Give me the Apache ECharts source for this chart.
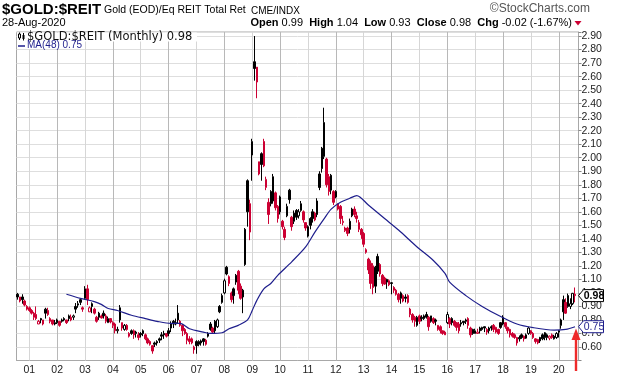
<!DOCTYPE html>
<html>
<head>
<meta charset="utf-8">
<script src="https://cdn.jsdelivr.net/npm/echarts@6/dist/echarts.min.js"></script>
<style>
html,body{margin:0;padding:0;background:#fff;}
#chart{width:620px;height:376px;}
</style>
</head>
<body>
<div id="chart"></div>
<script>
// monthly categories Aug 2000 .. Aug 2020 (+1 empty slot at the end)
var months = [];
for (var m = 0; m < 242; m++) {
    var yy = 2000 + Math.floor((7 + m) / 12);
    var mm = (7 + m) % 12 + 1;
    months.push(yy + '-' + (mm < 10 ? '0' + mm : mm));
}

// $GOLD:$REIT monthly OHLC
var open = [
 0.99,0.97,0.97,0.94,0.90,
 0.89,0.87,0.85,0.84,0.77,0.81,0.80,0.88,0.87,0.81,0.80,0.77,
 0.80,0.79,0.80,0.81,0.80,0.83,0.82,0.82,0.90,0.91,0.95,0.89,
 0.96,1.03,0.86,0.92,0.88,0.82,0.85,0.83,0.85,0.83,0.78,0.81,
 0.78,0.77,0.72,0.89,0.78,0.73,0.76,0.70,0.72,0.72,0.71,0.69,
 0.70,0.72,0.69,0.66,0.64,0.61,0.63,0.64,0.66,0.69,0.70,0.70,
 0.72,0.77,0.79,0.77,0.85,0.79,0.76,0.73,0.70,0.66,0.66,0.60,
 0.64,0.64,0.645,0.66,0.65,0.70,0.77,0.74,0.79,0.75,0.90,0.98,
 1.00,1.19,1.12,1.00,1.03,1.13,1.16,1.05,1.02,1.47,1.83,1.66,
 2.02,2.71,2.67,1.97,2.03,2.12,1.78,1.67,1.75,1.68,1.74,1.64,
 1.71,1.53,1.47,1.57,1.76,1.56,1.59,1.61,1.57,1.61,1.60,1.52,
 1.42,1.55,1.60,1.59,1.68,1.88,2.07,2.26,1.99,1.86,1.87,1.75,
 1.75,1.66,1.64,1.52,1.46,1.48,1.53,1.57,1.62,1.57,1.52,1.47,
 1.44,1.30,1.25,1.22,1.20,1.19,1.27,1.21,1.13,1.11,1.10,1.09,
 1.075,1.04,1.02,0.99,1.00,0.98,0.97,0.98,0.88,0.84,0.82,0.76,
 0.83,0.82,0.83,0.84,0.82,0.83,0.81,0.80,0.76,0.75,0.72,0.71,
 0.78,0.81,0.81,0.79,0.78,0.77,0.78,0.79,0.80,0.81,0.74,0.73,
 0.70,0.70,0.74,0.745,0.75,0.73,0.74,0.75,0.76,0.745,0.73,0.78,
 0.82,0.78,0.745,0.73,0.70,0.69,0.67,0.67,0.69,0.68,0.665,0.70,
 0.72,0.70,0.66,0.655,0.67,0.69,0.705,0.67,0.665,0.69,0.66,0.67,
 0.72,0.80,0.95,0.93,0.98,0.90,0.92,0.99
];
var high = [
 1.00,0.97,0.99,0.95,0.91,
 0.90,0.88,0.86,0.90,0.80,0.815,0.80,0.89,0.89,0.82,0.80,0.80,
 0.81,0.79,0.81,0.82,0.80,0.84,0.84,0.84,0.925,0.94,0.96,0.90,
 1.05,1.06,0.90,0.93,0.89,0.83,0.86,0.84,0.87,0.845,0.825,0.81,
 0.79,0.78,0.75,0.91,0.78,0.77,0.77,0.71,0.73,0.73,0.72,0.71,
 0.71,0.73,0.70,0.67,0.65,0.61,0.64,0.65,0.67,0.71,0.72,0.70,
 0.74,0.79,0.80,0.81,0.91,0.80,0.77,0.74,0.71,0.68,0.67,0.61,
 0.65,0.65,0.655,0.665,0.66,0.71,0.785,0.75,0.80,0.81,0.91,0.995,
 1.105,1.20,1.13,1.01,1.04,1.14,1.17,1.07,1.03,1.48,1.84,1.69,
 2.14,2.90,2.67,1.97,2.04,2.14,1.86,1.70,1.76,1.88,1.75,1.65,
 1.72,1.54,1.49,1.66,1.77,1.57,1.61,1.62,1.62,1.68,1.61,1.52,
 1.50,1.56,1.62,1.60,1.70,1.90,2.08,2.37,2.00,1.88,1.88,1.76,
 1.76,1.66,1.65,1.57,1.49,1.49,1.55,1.63,1.64,1.60,1.54,1.48,
 1.45,1.33,1.26,1.24,1.22,1.20,1.29,1.22,1.14,1.12,1.105,1.10,
 1.08,1.05,1.03,1.00,1.01,0.99,0.99,0.99,0.89,0.85,0.83,0.83,
 0.84,0.835,0.84,0.86,0.83,0.83,0.82,0.81,0.76,0.76,0.72,0.72,
 0.86,0.82,0.82,0.80,0.785,0.785,0.80,0.79,0.81,0.82,0.75,0.735,
 0.735,0.735,0.75,0.75,0.75,0.74,0.75,0.76,0.77,0.75,0.735,0.785,
 0.835,0.785,0.75,0.735,0.71,0.70,0.675,0.685,0.70,0.685,0.70,0.75,
 0.725,0.71,0.665,0.66,0.675,0.70,0.71,0.70,0.685,0.70,0.69,0.71,
 0.725,0.81,0.98,0.96,0.995,0.96,1.00,1.04
];
var low = [
 0.95,0.93,0.92,0.90,0.87,
 0.86,0.84,0.80,0.80,0.77,0.775,0.76,0.81,0.83,0.775,0.76,0.76,
 0.77,0.75,0.78,0.79,0.77,0.79,0.79,0.80,0.85,0.89,0.91,0.86,
 0.95,0.91,0.86,0.85,0.84,0.78,0.80,0.81,0.81,0.775,0.78,0.775,
 0.74,0.70,0.70,0.78,0.72,0.72,0.72,0.67,0.69,0.66,0.67,0.65,
 0.67,0.68,0.65,0.62,0.61,0.55,0.60,0.61,0.63,0.65,0.66,0.67,
 0.68,0.71,0.74,0.76,0.77,0.75,0.68,0.69,0.62,0.62,0.62,0.55,
 0.55,0.605,0.61,0.61,0.61,0.67,0.72,0.70,0.70,0.74,0.85,0.92,
 0.99,1.13,1.05,0.93,0.92,1.06,0.99,0.95,0.85,1.20,1.49,1.39,
 1.83,2.57,2.44,1.87,1.83,1.93,1.76,1.51,1.64,1.66,1.61,1.52,
 1.58,1.47,1.39,1.56,1.66,1.46,1.51,1.54,1.55,1.60,1.52,1.46,
 1.41,1.47,1.52,1.53,1.56,1.76,1.89,1.99,1.78,1.72,1.73,1.65,
 1.70,1.61,1.51,1.50,1.45,1.42,1.44,1.56,1.56,1.52,1.45,1.40,
 1.34,1.29,1.14,1.03,0.99,1.00,1.14,1.12,1.05,1.06,1.03,1.05,
 0.99,1.00,0.98,0.93,0.92,0.93,0.93,0.92,0.82,0.78,0.75,0.75,
 0.77,0.79,0.80,0.81,0.72,0.78,0.77,0.76,0.72,0.70,0.69,0.69,
 0.77,0.74,0.76,0.75,0.72,0.70,0.75,0.76,0.77,0.735,0.67,0.69,
 0.70,0.70,0.70,0.72,0.71,0.69,0.70,0.72,0.71,0.70,0.69,0.735,
 0.76,0.735,0.70,0.67,0.67,0.66,0.61,0.64,0.66,0.64,0.66,0.69,
 0.69,0.66,0.625,0.62,0.63,0.65,0.65,0.65,0.65,0.66,0.655,0.66,
 0.67,0.735,0.80,0.845,0.89,0.88,0.91,0.93
];
var close = [
 0.97,0.94,0.95,0.91,0.88,
 0.87,0.85,0.82,0.81,0.79,0.80,0.77,0.85,0.84,0.79,0.77,0.78,
 0.78,0.76,0.79,0.80,0.78,0.81,0.80,0.83,0.88,0.92,0.93,0.88,
 1.03,0.95,0.89,0.90,0.85,0.79,0.82,0.815,0.83,0.79,0.81,0.785,
 0.76,0.72,0.73,0.80,0.74,0.76,0.73,0.68,0.70,0.69,0.70,0.67,
 0.69,0.70,0.66,0.63,0.62,0.57,0.62,0.63,0.65,0.68,0.69,0.68,
 0.70,0.74,0.77,0.78,0.80,0.76,0.72,0.70,0.65,0.64,0.63,0.58,
 0.61,0.62,0.63,0.64,0.62,0.68,0.73,0.71,0.72,0.80,0.86,0.93,
 1.09,1.14,1.07,0.95,0.98,1.08,1.02,0.96,0.97,1.21,1.60,1.45,
 2.12,2.66,2.56,1.88,1.95,1.94,1.84,1.58,1.66,1.86,1.63,1.55,
 1.60,1.49,1.41,1.64,1.69,1.49,1.53,1.56,1.60,1.66,1.54,1.48,
 1.49,1.50,1.55,1.54,1.58,1.78,1.92,2.01,1.80,1.75,1.76,1.67,
 1.71,1.62,1.55,1.53,1.48,1.44,1.47,1.62,1.58,1.55,1.47,1.43,
 1.36,1.32,1.17,1.07,1.04,1.05,1.16,1.14,1.07,1.065,1.08,1.06,
 1.07,1.02,0.99,0.95,0.96,0.94,0.96,0.93,0.84,0.80,0.79,0.82,
 0.79,0.81,0.81,0.82,0.75,0.79,0.78,0.79,0.73,0.72,0.70,0.69,
 0.84,0.77,0.78,0.76,0.745,0.72,0.77,0.78,0.79,0.76,0.69,0.70,
 0.72,0.71,0.72,0.73,0.74,0.71,0.72,0.74,0.73,0.71,0.70,0.745,
 0.77,0.75,0.72,0.69,0.68,0.67,0.63,0.66,0.67,0.66,0.69,0.74,
 0.70,0.67,0.64,0.63,0.645,0.66,0.67,0.69,0.68,0.67,0.68,0.70,
 0.71,0.76,0.86,0.85,0.90,0.92,0.997,0.98
];

// MA(48) read at a few months along the curve
var maMonths = ['2002-05','2002-11','2003-05','2003-08','2003-11','2004-03','2004-09','2005-03','2005-08',
 '2006-02','2006-06','2006-10','2007-04','2007-07','2007-12','2008-03','2008-07','2008-11','2009-01',
 '2009-03','2009-06','2009-09','2009-12','2010-06','2010-12','2011-04','2011-08','2011-11','2012-03',
 '2012-07','2012-10','2013-03','2013-10','2014-04','2014-12','2015-07','2015-12','2016-02','2016-09',
 '2017-04','2017-12','2018-07','2019-02','2019-11','2020-04','2020-08'];
var maValues = [0.99,0.96,0.935,0.915,0.885,0.87,0.835,0.81,0.79,
 0.775,0.775,0.735,0.71,0.70,0.705,0.735,0.76,0.80,0.87,
 0.945,1.03,1.07,1.13,1.23,1.34,1.45,1.55,1.62,1.67,
 1.70,1.72,1.65,1.55,1.465,1.34,1.24,1.145,1.08,0.98,
 0.90,0.825,0.77,0.743,0.725,0.73,0.75];

var BLACK = '#000000', RED = '#cc0033', NAVY = '#1e1e8c';

var candles = [];
for (var i = 0; i < close.length; i++) {
    var prev = i > 0 ? close[i - 1] : close[i];
    var lc = close[i] >= prev ? BLACK : RED;
    var fill = close[i] > open[i] ? '#ffffff' : lc;
    candles.push({
        value: [open[i], close[i], low[i], high[i]],
        itemStyle: {color: fill, color0: fill, borderColor: lc, borderColor0: lc, borderColorDoji: lc}
    });
}

var maData = [];
for (var k = 0; k < maMonths.length; k++) maData.push([maMonths[k], maValues[k]]);

function isJan(idx, val) { return months[idx] && months[idx].slice(5) === '01'; }

var janLines = [];
months.forEach(function (mo) {
    if (mo.slice(5) === '01') {
        var even = parseInt(mo.slice(0, 4), 10) % 2 === 0;
        janLines.push({xAxis: mo, lineStyle: {color: even ? '#b8b8b8' : '#d6d6d6', width: 1, type: 'solid'}});
    }
});

var lastClose = close[close.length - 1];
var lastMa = maValues[maValues.length - 1];

var myChart = echarts.init(document.getElementById('chart'), null, {renderer: 'canvas'});
var option = {
    animation: false,
    grid: {left: 16.5, right: 41.5, top: 32, bottom: 15.5, show: true, borderColor: '#a8a8a8', borderWidth: 1, outerBoundsMode: 'none'},
    xAxis: {
        type: 'category',
        data: months,
        boundaryGap: true,
        axisLine: {lineStyle: {color: '#a8a8a8'}},
        axisTick: {interval: isJan, alignWithLabel: true, length: 3, lineStyle: {color: '#a8a8a8'}},
        axisLabel: {interval: isJan, formatter: function (v) { return v.slice(2, 4); },
            fontFamily: 'Liberation Sans', fontSize: 10.5, color: '#222', margin: 4},
        splitLine: {show: false}
    },
    yAxis: {
        type: 'value',
        position: 'right',
        min: 0.5, max: 2.93, interval: 0.1,
        axisLine: {show: true, lineStyle: {color: '#a8a8a8'}},
        axisTick: {show: true, length: 3, lineStyle: {color: '#888'}},
        axisLabel: {
            formatter: function (v) { if (v < 0.55 || v > 2.905) return ''; return v.toFixed(2); },
            fontFamily: 'Liberation Sans', fontSize: 10.5, color: '#222', margin: 3
        },
        splitLine: {lineStyle: {color: '#dedede', width: 1}}
    },
    series: [
        {
            name: '$GOLD:$REIT',
            type: 'candlestick',
            data: candles,
            barWidth: 2,
            itemStyle: {borderWidth: 1},
            markLine: {silent: true, symbol: 'none', z: 1, label: {show: false}, data: janLines, animation: false}
        },
        {
            name: 'MA(48)',
            type: 'line',
            data: maData,
            showSymbol: false,
            smooth: 0.3,
            connectNulls: true,
            lineStyle: {color: NAVY, width: 1.2},
            z: 3
        }
    ],
    graphic: [
        {type: 'text', x: 2, y: 10, style: {text: '$GOLD:$REIT', font: 'bold 15px "Liberation Sans"', fill: '#000', verticalAlign: 'middle'}},
        {type: 'text', x: 104, y: 10.5, style: {text: 'Gold (EOD)/Eq REIT Total Ret', font: '10.5px "Liberation Sans"', fill: '#000', verticalAlign: 'middle'}},
        {type: 'text', x: 251, y: 11, style: {text: 'CME/INDX', font: '10px "Liberation Sans"', fill: '#000', verticalAlign: 'middle'}},
        {type: 'text', x: 590, y: 9, style: {text: '\u00a9StockCharts.com', font: '12px "Liberation Sans"', fill: '#555', align: 'right', verticalAlign: 'middle'}},
        {type: 'text', x: 2, y: 23, style: {text: '28-Aug-2020', font: '11px "Liberation Sans"', fill: '#000', verticalAlign: 'middle'}},
        {type: 'text', x: 572, y: 23, style: {
            text: '{b|Open} 0.99  {b|High} 1.04  {b|Low} 0.93  {b|Close} 0.98  {b|Chg} -0.02 (-1.67%)',
            font: '11px "Liberation Sans"', fill: '#000', align: 'right', verticalAlign: 'middle',
            rich: {b: {font: 'bold 11px "Liberation Sans"', fill: '#000'}}
        }},
        {type: 'polygon', shape: {points: [[574.5, 21], [581.5, 21], [578, 25.5]]}, style: {fill: '#cc0033'}},
        // legend
        {type: 'rect', shape: {x: 17, y: 32.5, width: 180, height: 9}, style: {fill: '#fff'}, z: 10},
        {type: 'rect', shape: {x: 17, y: 41.5, width: 68, height: 7.5}, style: {fill: '#fff'}, z: 10},
        {type: 'line', shape: {x1: 19.5, y1: 32.5, x2: 19.5, y2: 40}, style: {stroke: '#000', lineWidth: 1}, z: 11},
        {type: 'rect', shape: {x: 18.5, y: 34, width: 2, height: 4}, style: {fill: '#fff', stroke: '#000', lineWidth: 1}, z: 11},
        {type: 'line', shape: {x1: 23.5, y1: 33, x2: 23.5, y2: 40.5}, style: {stroke: '#000', lineWidth: 1}, z: 11},
        {type: 'rect', shape: {x: 22.5, y: 35, width: 2, height: 4}, style: {fill: '#000'}, z: 11},
        {type: 'text', x: 27, y: 37, z: 11, style: {text: '$GOLD:$REIT (Monthly) ' + lastClose.toFixed(2), font: '11.5px "DejaVu Sans"', fill: '#111', verticalAlign: 'middle'}},
        {type: 'line', shape: {x1: 18, y1: 46, x2: 25, y2: 46}, style: {stroke: NAVY, lineWidth: 1.5}, z: 11},
        {type: 'text', x: 27, y: 45.5, z: 11, style: {text: 'MA(48) ' + lastMa.toFixed(2), font: '10px "Liberation Sans"', fill: NAVY, verticalAlign: 'middle'}},
        // red arrow annotation
        {type: 'polygon', shape: {points: [[576, 328.5], [571.5, 340], [580.5, 340]]}, style: {fill: '#ee2a2a'}, z: 20},
        {type: 'rect', shape: {x: 574.8, y: 339, width: 2.4, height: 32}, style: {fill: '#ee2a2a'}, z: 20}
    ]
};
myChart.setOption(option);

// price tags on the right axis
function tag(val, stroke, bold, id) {
    var y = myChart.convertToPixel({yAxisIndex: 0}, val);
    var x0 = 578.5;
    return [
        {id: id + 'p', type: 'polygon', z: 30, shape: {points: [[x0, y], [x0 + 5, y - 6], [603.5, y - 6], [603.5, y + 6], [x0 + 5, y + 6]]},
            style: {fill: '#fff', stroke: stroke, lineWidth: 1}},
        {id: id + 't', type: 'text', z: 31, x: 594, y: y + 0.5, style: {text: val.toFixed(2), font: (bold ? 'bold ' : '') + '10.5px "Liberation Sans"',
            fill: stroke, align: 'center', verticalAlign: 'middle'}}
    ];
}
myChart.setOption({graphic: tag(lastClose, '#000', true, 'c').concat(tag(lastMa, NAVY, false, 'm'))});
</script>
</body>
</html>
